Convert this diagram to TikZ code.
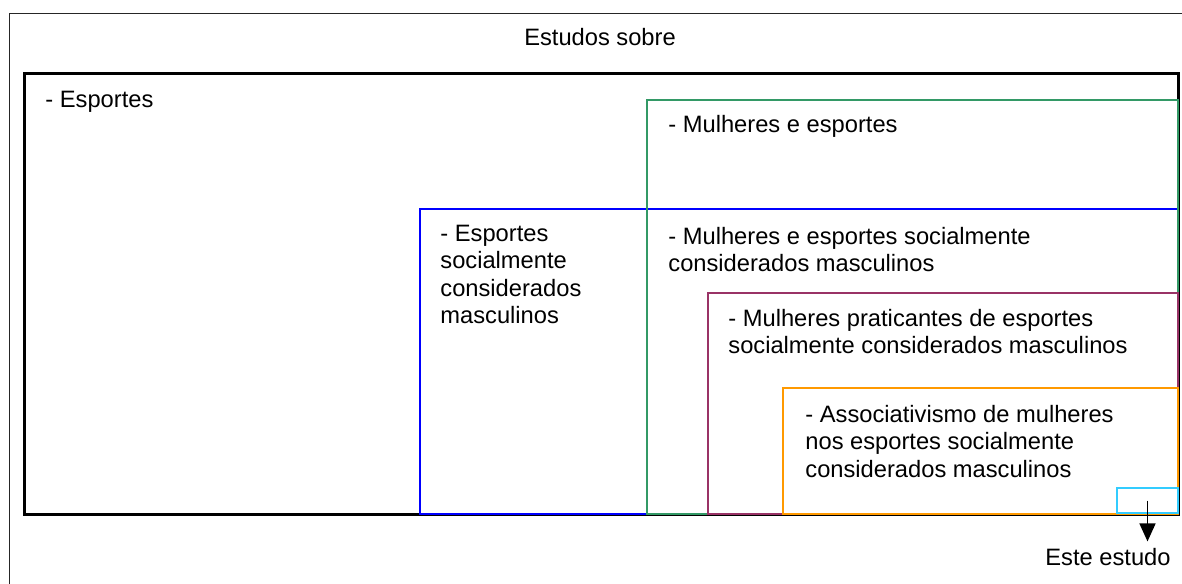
\documentclass[tikz,border=0pt]{standalone}
\usepackage{fontspec}
\setmainfont{Liberation Sans}
\usepackage{tikz}
\usetikzlibrary{arrows.meta,positioning}
\usepackage{xcolor}
\definecolor{esgreen}{RGB}{51,153,102}
\definecolor{esblue}{RGB}{0,0,255}
\definecolor{espurple}{RGB}{153,51,102}
\definecolor{esorange}{RGB}{255,153,0}
\definecolor{escyan}{RGB}{51,204,255}
\tikzstyle{arrow} = [line width=0.8pt,-{Triangle[length=9pt,width=8pt]},color=black]
\tikzstyle{areabox} = [line width=1pt]
\tikzstyle{label} = [inner sep=0pt, align=left, anchor=north west, font=\fontsize{11.85pt}{13.7pt}\selectfont]

\begin{document}
\begin{tikzpicture}[x=0.5pt,y=-0.5pt]
\useasboundingbox (0,0) rectangle (1182,583);
% Outer frame
\begin{scope}
\clip (0,0) rectangle (1182,583);
\draw[line width=0.5pt, black!85] (9,14) rectangle (1200,600);
\end{scope}
\node[label, anchor=base] (sobre) at (600,46) {Estudos sobre};

% Areas
\draw[line width=1.5pt] (24.5,74) rectangle (1178.5,514.5);
\draw[areabox, esblue] (419.5,208.5) rectangle (1178,514);
\draw[areabox, esgreen] (646.5,100) rectangle (1178,514);
\draw[areabox, espurple] (708,292.5) rectangle (1178,514);
\draw[areabox, esorange] (783,388) rectangle (1178,514);

% Labels
\node[label, anchor=base west] (esportes) at (45,107) {- Esportes};
\node[label, anchor=base west] (mulheres) at (668,133) {- Mulheres e esportes};
\node[label] (espmasc) at (440,224.7) {- Esportes\\socialmente\\considerados\\masculinos};
\node[label] (mulmasc) at (668,226.7) {- Mulheres e esportes socialmente\\considerados masculinos};
\node[label] (pratic) at (728,308.7) {- Mulheres praticantes de esportes\\socialmente considerados masculinos};
\node[label] (assoc) at (805,404.7) {- Associativismo de mulheres\\nos esportes socialmente\\considerados masculinos};

% This study
\node[draw=escyan, line width=1pt, minimum width=30.5pt, minimum height=12.5pt, inner sep=0pt] (estudo) at (1147.5,500.5) {};
\node[label, anchor=base, inner sep=3pt] (este) at (1108,565) {Este estudo};

% Arrow
\draw[arrow] (estudo.center) -- (estudo.center |- este.north);
\end{tikzpicture}
\end{document}
